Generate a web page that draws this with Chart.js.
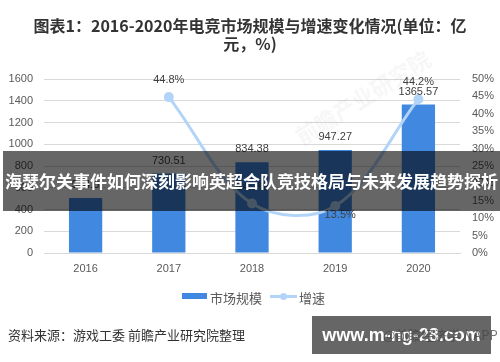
<!DOCTYPE html>
<html>
<head>
<meta charset="utf-8">
<script src="https://cdn.jsdelivr.net/npm/chart.js@4"></script>
<style>
  body { margin: 0; background: #fff; }
  #wrap { position: relative; width: 500px; height: 362px; overflow: hidden; font-family: "Noto Sans CJK SC", sans-serif; }
  #chart { position: absolute; left: 0; top: 0; }
  .abs { position: absolute; white-space: nowrap; }
  #title { left: 0; width: 500px; top: 16px; text-align: center; font-size: 16px; font-weight: bold; color: #333; line-height: 18px; }
  #wm { left: 285px; top: 80px; font-size: 22px; font-weight: bold; color: rgba(0,0,0,0.035); transform: rotate(-32deg); }
  #band { left: 3px; top: 151px; width: 497px; height: 60px; background: rgba(0,0,0,0.6); color: #fff; font-size: 17px; font-weight: bold; line-height: 60px; text-align: center; }
  .leg { top: 288px; font-size: 13px; color: #595959; }
  #src { left: 8px; top: 325px; font-size: 13px; color: #333; }
  #app { left: 383px; top: 325px; font-size: 13px; color: rgba(70,70,70,0.75); }
  #site { left: 312px; top: 316px; width: 179px; height: 38px; background: #666; color: #fff; font-size: 18px; font-weight: bold; line-height: 38px; text-align: center; font-family: "Liberation Sans", sans-serif; }
</style>
</head>
<body>
<div id="wrap">
  <canvas id="chart" width="500" height="362"></canvas>
  <div class="abs" id="title">图表1：2016-2020年电竞市场规模与增速变化情况(单位：亿<br>元，%)</div>
  <div class="abs" id="wm">前瞻产业研究院</div>
  <div class="abs" id="band">海瑟尔关事件如何深刻影响英超合队竞技格局与未来发展趋势探析</div>
  <div class="abs leg" style="left:182px;top:293px;width:25px;height:6px;background:#4088e0"></div>
  <div class="abs leg" style="left:210px">市场规模</div>
  <div class="abs leg" style="left:270px;top:295px;width:27px;height:3px;background:#b3d4f9"></div>
  <div class="abs leg" style="left:280px;top:293px;width:7px;height:7px;border-radius:50%;background:#b3d4f9"></div>
  <div class="abs leg" style="left:299px">增速</div>
  <div class="abs" id="src">资料来源：游戏工委 前瞻产业研究院整理</div>
  <div class="abs" id="site">www.m-ng-28.com</div>
  <div class="abs" id="app">@前瞻经济学人APP</div>
</div>
<script>
// 数据
const years = ['2016', '2017', '2018', '2019', '2020']
const marketSize = [504.6, 730.51, 834.38, 947.27, 1365.57]
const growth = [null, 44.8, 14.2, 13.5, 44.2]
const growthLabelPos = [null, 'above', 'above', 'below', 'above']

const barColor = '#4088e0'
const lineColor = '#b3d4f9'
const tickFont = { family: 'Liberation Sans', size: 11 }

const valueLabels = {
  id: 'valueLabels',
  afterDatasetsDraw(chart) {
    const ctx = chart.ctx
    ctx.save()
    ctx.font = '11px "Liberation Sans"'
    ctx.fillStyle = '#404040'
    ctx.textAlign = 'center'
    ctx.textBaseline = 'middle'
    const bars = chart.getDatasetMeta(1).data
    bars.forEach((b, i) => {
      ctx.fillText(String(marketSize[i]), b.x, b.y - 13)
    })
    const pts = chart.getDatasetMeta(0).data
    pts.forEach((p, i) => {
      if (growth[i] == null) return
      const below = growthLabelPos[i] === 'below'
      ctx.fillText(growth[i].toFixed(1) + '%', p.x + (below ? 5 : 0), p.y + (below ? 9 : -17))
    })
    ctx.restore()
  }
}

new Chart(document.getElementById('chart'), {
  data: {
    labels: years,
    datasets: [
      {
        type: 'line',
        label: '增速',
        data: growth,
        yAxisID: 'y1',
        borderColor: lineColor,
        backgroundColor: lineColor,
        borderWidth: 3,
        pointRadius: 3.5,
        tension: 0.35,
        order: 0,
      },
      {
        type: 'bar',
        label: '市场规模',
        data: marketSize,
        yAxisID: 'y',
        backgroundColor: barColor,
        categoryPercentage: 1,
        barPercentage: 0.4,
        order: 1,
      },
    ],
  },
  options: {
    responsive: false,
    animation: false,
    events: [],
    layout: { padding: { top: 79, bottom: 79, left: 0, right: 0 } },
    plugins: { legend: { display: false }, tooltip: { enabled: false } },
    scales: {
      x: {
        grid: { display: false, drawTicks: false },
        border: { color: '#d9d9d9' },
        ticks: { color: '#595959', font: tickFont, padding: 9 },
        afterFit(s) { s.height = 30 },
      },
      y: {
        position: 'left',
        min: 0,
        max: 1600,
        ticks: { stepSize: 200, color: '#595959', font: tickFont, padding: 11, callback: (v) => String(v) },
        grid: { color: '#d9d9d9', drawTicks: false },
        border: { display: false },
        afterFit(s) { s.width = 44 },
      },
      y1: {
        position: 'right',
        min: 0,
        max: 50,
        ticks: { stepSize: 5, color: '#595959', font: tickFont, padding: 12, callback: (v) => v + '%' },
        grid: { display: false, drawTicks: false },
        border: { display: false },
        afterFit(s) { s.width = 40 },
      },
    },
  },
  plugins: [valueLabels],
})
</script>
</body>
</html>
